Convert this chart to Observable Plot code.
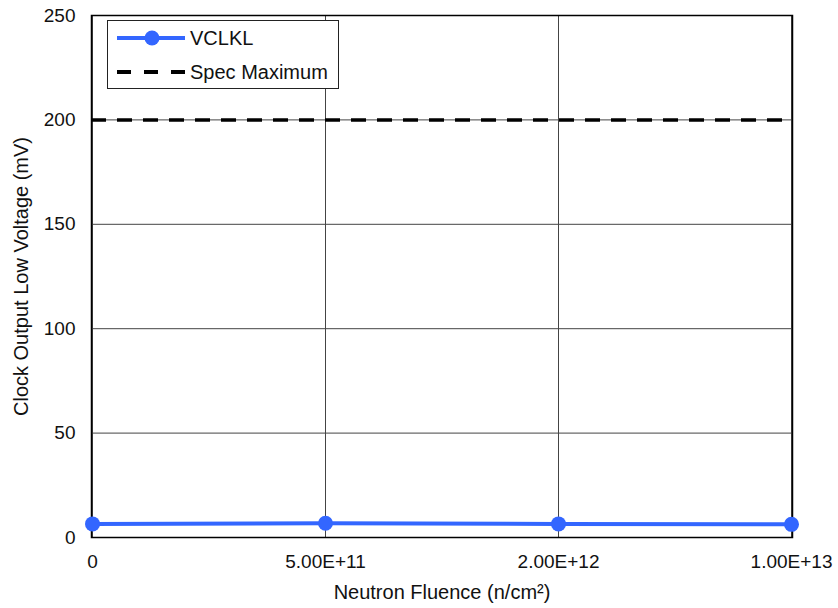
<!DOCTYPE html>
<html><head><meta charset="utf-8">
<script src="https://cdn.jsdelivr.net/npm/d3@7"></script>
<script src="https://cdn.jsdelivr.net/npm/@observablehq/plot@0.6"></script>
<style>
body{margin:0;background:#fff;font-family:"Liberation Sans",Arial,sans-serif;}
#wrap{position:relative;width:838px;height:608px;}
#legend{position:absolute;left:107px;top:20px;width:232px;height:69px;border:1px solid #222;background:#fff;box-sizing:border-box;font-size:20px;color:#111;}
#legend .row{position:absolute;left:9px;height:22px;display:flex;align-items:center;}
#legend svg{display:block;}
#legend span{margin-left:5px;line-height:22px;}
</style></head>
<body><div id="wrap"><div id="chart"></div>
<div id="legend">
 <div class="row" style="top:6px"><svg width="68" height="22"><line x1="0" x2="68" y1="11" y2="11" stroke="#3366ff" stroke-width="4"/><circle cx="35" cy="11" r="7.5" fill="#3366ff"/></svg><span>VCLKL</span></div>
 <div class="row" style="top:40px"><svg width="68" height="22"><line x1="0" x2="68" y1="11" y2="11" stroke="#000" stroke-width="4" stroke-dasharray="14,13"/></svg><span>Spec Maximum</span></div>
</div></div>
<script>
const fluence = ["0", "5.00E+11", "2.00E+12", "1.00E+13"];
const vclkl = [6.5, 6.8, 6.5, 6.3];
const specMax = 200;
const yTicks = [0, 50, 100, 150, 200, 250];

const data = fluence.map((f, i) => ({f, v: vclkl[i]}));

const chart = Plot.plot({
  width: 838, height: 608,
  marginLeft: 91, marginRight: 46, marginTop: 15, marginBottom: 71,
  style: {fontFamily: '"Liberation Sans", Arial, sans-serif', fontSize: "19px", color: "#111"},
  x: {type: "point", domain: fluence, padding: 0, label: null},
  y: {domain: [0, 250], ticks: yTicks, label: null},
  marks: [
    Plot.gridX(fluence, {stroke: "#444", strokeOpacity: 1, strokeWidth: 1}),
    Plot.gridY(yTicks, {stroke: "#444", strokeOpacity: 1, strokeWidth: 1}),
    Plot.frame({stroke: "#000", strokeWidth: 1.5}),
    Plot.axisX({ticks: fluence, tickSize: 0, tickPadding: 17, fontSize: 19}),
    Plot.axisY({ticks: yTicks, tickSize: 0, tickPadding: 16, fontSize: 19}),
    Plot.text(["Neutron Fluence (n/cm²)"], {frameAnchor: "bottom", lineAnchor: "middle", dy: 55, fontSize: 20}),
    Plot.text(["Clock Output Low Voltage (mV)"], {frameAnchor: "left", textAnchor: "middle", lineAnchor: "middle", dx: -70, rotate: -90, fontSize: 20}),
    Plot.ruleY([specMax], {stroke: "#000", strokeWidth: 3.5, strokeDasharray: "15,11"}),
    Plot.line(data, {x: "f", y: "v", stroke: "#3366ff", strokeWidth: 4}),
    Plot.dot(data, {x: "f", y: "v", r: 7.5, fill: "#3366ff"})
  ]
});
document.getElementById("chart").appendChild(chart);
</script></body></html>
